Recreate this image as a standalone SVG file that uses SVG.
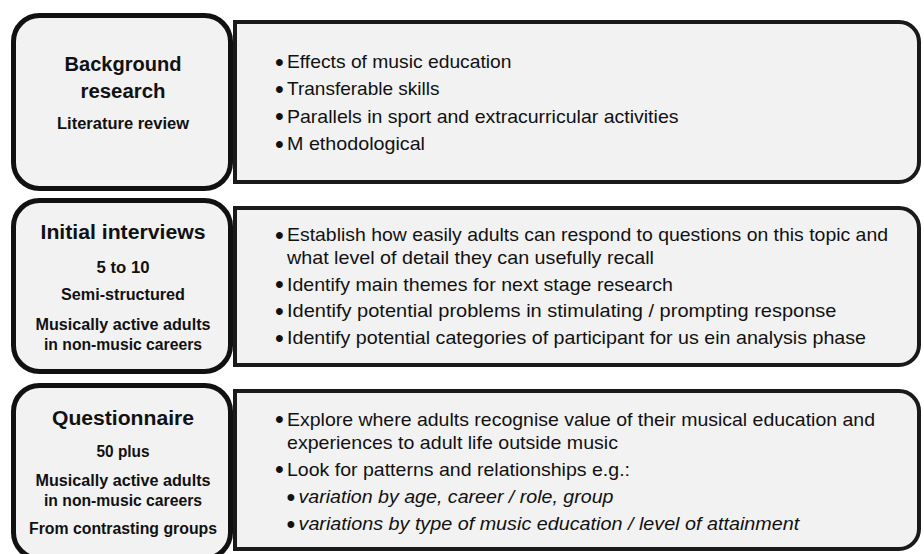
<svg xmlns="http://www.w3.org/2000/svg" width="924" height="554" viewBox="0 0 924 554">
  <style>
    .panel { fill: #f2f2f2; stroke: #1a1a1a; stroke-width: 4; }
    .stage { fill: #f2f2f2; stroke: #111111; stroke-width: 5; }
    text { font-family: "Liberation Sans", Arial, sans-serif; fill: #111111; }
    .title { font-size: 20px; font-weight: bold; text-anchor: middle; }
    .sub { font-size: 16px; font-weight: bold; text-anchor: middle; }
    .item { font-size: 19px; }
    .subitem { font-size: 19px; font-style: italic; }
    .dot { font-size: 25px; }
  </style>

  <!-- Detail panels (drawn first so the stage boxes sit over their left edges) -->
  <g id="panel-background">
    <path class="panel" d="M235,22 H899 A20,20 0 0 1 919,42 V162 A20,20 0 0 1 899,182 H235 Z"/>
    <text class="dot" x="275" y="70.5">•</text>
    <text class="item" x="287" y="68" textLength="224.5" lengthAdjust="spacingAndGlyphs">Effects of music education</text>
    <text class="dot" x="275" y="97.5">•</text>
    <text class="item" x="287" y="95" textLength="152.5" lengthAdjust="spacingAndGlyphs">Transferable skills</text>
    <text class="dot" x="275" y="125">•</text>
    <text class="item" x="287" y="122.5" textLength="391.5" lengthAdjust="spacingAndGlyphs">Parallels in sport and extracurricular activities</text>
    <text class="dot" x="275" y="152.5">•</text>
    <text class="item" x="287" y="150" textLength="138" lengthAdjust="spacingAndGlyphs">M ethodological</text>
  </g>

  <g id="panel-interviews">
    <path class="panel" d="M235,208 H899 A20,20 0 0 1 919,228 V345 A20,20 0 0 1 899,365 H235 Z"/>
    <text class="dot" x="275" y="243.5">•</text>
    <text class="item" x="287" y="241" textLength="601" lengthAdjust="spacingAndGlyphs">Establish how easily adults can respond to questions on this topic and</text>
    <text class="item" x="287" y="264" textLength="367" lengthAdjust="spacingAndGlyphs">what level of detail they can usefully recall</text>
    <text class="dot" x="275" y="293">•</text>
    <text class="item" x="287" y="290.5" textLength="386" lengthAdjust="spacingAndGlyphs">Identify main themes for next stage research</text>
    <text class="dot" x="275" y="319.5">•</text>
    <text class="item" x="287" y="317" textLength="549.5" lengthAdjust="spacingAndGlyphs">Identify potential problems in stimulating / prompting response</text>
    <text class="dot" x="275" y="346.5">•</text>
    <text class="item" x="287" y="344" textLength="579" lengthAdjust="spacingAndGlyphs">Identify potential categories of participant for us ein analysis phase</text>
  </g>

  <g id="panel-questionnaire">
    <path class="panel" d="M235,391 H899 A20,20 0 0 1 919,411 V529 A20,20 0 0 1 899,549 H235 Z"/>
    <text class="dot" x="275" y="428">•</text>
    <text class="item" x="287" y="425.5" textLength="588" lengthAdjust="spacingAndGlyphs">Explore where adults recognise value of their musical education and</text>
    <text class="item" x="287" y="448.5" textLength="331" lengthAdjust="spacingAndGlyphs">experiences to adult life outside music</text>
    <text class="dot" x="275" y="478">•</text>
    <text class="item" x="287" y="475.5" textLength="343" lengthAdjust="spacingAndGlyphs">Look for patterns and relationships e.g.:</text>
    <text class="dot" x="286.5" y="505.5">•</text>
    <text class="subitem" x="298.5" y="503" textLength="315" lengthAdjust="spacingAndGlyphs">variation by age, career / role, group</text>
    <text class="dot" x="286.5" y="532.5">•</text>
    <text class="subitem" x="298.5" y="530" textLength="500.7" lengthAdjust="spacingAndGlyphs">variations by type of music education / level of attainment</text>
  </g>

  <!-- Stage boxes -->
  <g id="stage-background">
    <rect class="stage" x="13.5" y="15.5" width="217" height="173" rx="26" ry="26"/>
    <text class="title" x="123" y="71" textLength="117" lengthAdjust="spacingAndGlyphs">Background</text>
    <text class="title" x="123" y="98" textLength="85" lengthAdjust="spacingAndGlyphs">research</text>
    <text class="sub" x="123" y="129" textLength="132" lengthAdjust="spacingAndGlyphs">Literature review</text>
  </g>

  <g id="stage-interviews">
    <rect class="stage" x="13.5" y="200.5" width="217" height="171" rx="26" ry="26"/>
    <text class="title" x="123" y="239" textLength="165" lengthAdjust="spacingAndGlyphs">Initial interviews</text>
    <text class="sub" x="123" y="273" textLength="53" lengthAdjust="spacingAndGlyphs">5 to 10</text>
    <text class="sub" x="123" y="300" textLength="124" lengthAdjust="spacingAndGlyphs">Semi-structured</text>
    <text class="sub" x="123" y="329.5" textLength="175" lengthAdjust="spacingAndGlyphs">Musically active adults</text>
    <text class="sub" x="123" y="349.5" textLength="158" lengthAdjust="spacingAndGlyphs">in non-music careers</text>
  </g>

  <g id="stage-questionnaire">
    <rect class="stage" x="13.5" y="385.5" width="217" height="173" rx="26" ry="26"/>
    <text class="title" x="123" y="425" textLength="142" lengthAdjust="spacingAndGlyphs">Questionnaire</text>
    <text class="sub" x="123" y="456.5" textLength="53" lengthAdjust="spacingAndGlyphs">50 plus</text>
    <text class="sub" x="123" y="485.5" textLength="175" lengthAdjust="spacingAndGlyphs">Musically active adults</text>
    <text class="sub" x="123" y="505.5" textLength="158" lengthAdjust="spacingAndGlyphs">in non-music careers</text>
    <text class="sub" x="123" y="533.5" textLength="188" lengthAdjust="spacingAndGlyphs">From contrasting groups</text>
  </g>

  <!-- No connectors are drawn between the rows -->
  <g id="connectors"/>
</svg>
